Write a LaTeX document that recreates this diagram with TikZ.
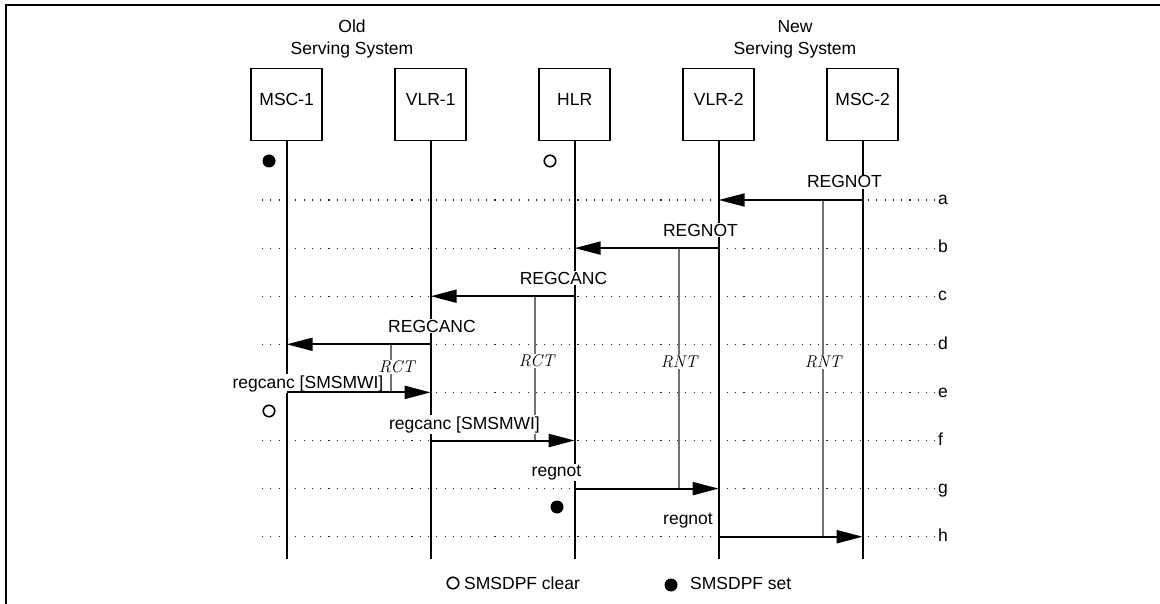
\documentclass[tikz,border=0pt]{standalone}
\usepackage{fontspec}
\newfontfamily\arialf{Liberation Sans}
\usetikzlibrary{arrows.meta}
\tikzset{
  sf/.style={font=\arialf\fontsize{17.5}{21}\selectfont},
  entity/.style={sf,draw,line width=1.5pt,minimum width=71pt,minimum height=72pt,
    anchor=north,inner sep=0pt,text depth=10pt},
  life/.style={line width=1.6pt},
  rowline/.style={line width=1.1pt,dash pattern=on 1.1pt off 7.2pt,black!85},
  timer/.style={line width=1.6pt,black!55},
  tlabel/.style={font=\fontsize{17}{20}\selectfont\itshape,fill=white,inner sep=1pt},
  msglabel/.style={sf,anchor=base,fill=white,inner sep=1pt},
  msg/.style={line width=2pt,-{Triangle[length=26pt,width=13pt]}},
  rowletter/.style={sf,anchor=base west,inner sep=0pt},
  setdot/.style={circle,fill=black,minimum size=13pt,inner sep=0pt},
  cleardot/.style={circle,draw=black,line width=1.6pt,minimum size=11.5pt,inner sep=0pt},
}
\begin{document}
\begin{tikzpicture}[x=1pt,y=-1pt]
\useasboundingbox (0,0) rectangle (1160,604);
% frame
\draw[line width=2.2pt] (6,604) -- (6,5) -- (1160,5);

% row coordinates
\foreach \n/\y in {a/200,b/248.1,c/296.2,d/344.3,e/392.4,f/440.5,g/488.6,h/536.7}{
  \coordinate (r\n) at (0,\y);
  \coordinate (s\n) at (262,\y);
  \coordinate (t\n) at (936,\y);
}
\coordinate (bot) at (0,559);

% dotted rows
\foreach \n in {a,b,c,d,e,f,g,h}{
  \draw[rowline] (s\n) -- (t\n);
}

% titles
\node[sf,anchor=base] (oldt1) at (352,32.3) {Old};
\node[sf,anchor=base] (oldt2) at (352,54.3) {Serving System};
\node[sf,anchor=base] (newt1) at (795,32.3) {New};
\node[sf,anchor=base] (newt2) at (795,54.3) {Serving System};

% entities
\node[entity] (msc1) at (286.7,68) {MSC-1};
\node[entity] (vlr1) at (430.7,68) {VLR-1};
\node[entity] (hlr)  at (574.7,68) {HLR};
\node[entity] (vlr2) at (718.7,68) {VLR-2};
\node[entity] (msc2) at (862.7,68) {MSC-2};

% lifelines
\foreach \e in {msc1,vlr1,hlr,vlr2,msc2}{
  \draw[life] (\e.south) -- (\e.south |- bot);
}

% timers
\coordinate (x4) at (822.7,0);
\coordinate (x3) at (679,0);
\coordinate (x2) at (535,0);
\coordinate (x1) at (390.7,0);
\draw[timer] (x4 |- ra) -- (x4 |- rh);
\draw[timer] (x3 |- rb) -- (x3 |- rg);
\draw[timer] (x2 |- rc) -- (x2 |- rf);
\draw[timer] (x1 |- rd) -- (x1 |- re);
\node[tlabel] (rnt2) at (823,362) {RNT};
\node[tlabel] (rnt1) at (679,362) {RNT};
\node[tlabel] (rct2) at (536.5,361) {RCT};
\node[tlabel] (rct1) at (396.7,367) {RCT};

% message labels
\node[msglabel] (la) at (844.5,188) {REGNOT};
\node[msglabel] (lb) at (700.5,236.1) {REGNOT};
\node[msglabel] (lc) at (563.5,284.2) {REGCANC};
\node[msglabel] (ld) at (432,332.3) {REGCANC};
\node[msglabel] (le) at (308,388) {regcanc [SMSMWI]};
\node[msglabel] (lf) at (464.5,429) {regcanc [SMSMWI]};
\node[msglabel] (lg) at (556.5,476.6) {regnot};
\node[msglabel] (lh) at (688,524.7) {regnot};

% messages
\draw[msg] (msc2 |- ra) -- (vlr2 |- ra);
\draw[msg] (vlr2 |- rb) -- (hlr |- rb);
\draw[msg] (hlr |- rc) -- (vlr1 |- rc);
\draw[msg] (vlr1 |- rd) -- (msc1 |- rd);
\draw[msg] (msc1 |- re) -- (vlr1 |- re);
\draw[msg] (vlr1 |- rf) -- (hlr |- rf);
\draw[msg] (hlr |- rg) -- (vlr2 |- rg);
\draw[msg] (vlr2 |- rh) -- (msc2 |- rh);

% row letters
\foreach \n in {a,b,c,d,e,f,g,h}{
  \node[rowletter] (let\n) at ([xshift=2pt,yshift=-4.8pt]t\n) {\n};
}

% SMSDPF indicators
\node[setdot] (d1) at (269,161) {};
\node[cleardot] (d2) at (550,161) {};
\node[cleardot] (d3) at (269,411) {};
\node[setdot] (d4) at (557,507) {};

% legend
\node[cleardot] (lgc) at (453,583) {};
\node[sf,anchor=west,inner sep=0pt] (lgct) at (464,583) {SMSDPF clear};
\node[setdot] (lgs) at (671,585) {};
\node[sf,anchor=west,inner sep=0pt] (lgst) at (690,583) {SMSDPF set};
\end{tikzpicture}
\end{document}
